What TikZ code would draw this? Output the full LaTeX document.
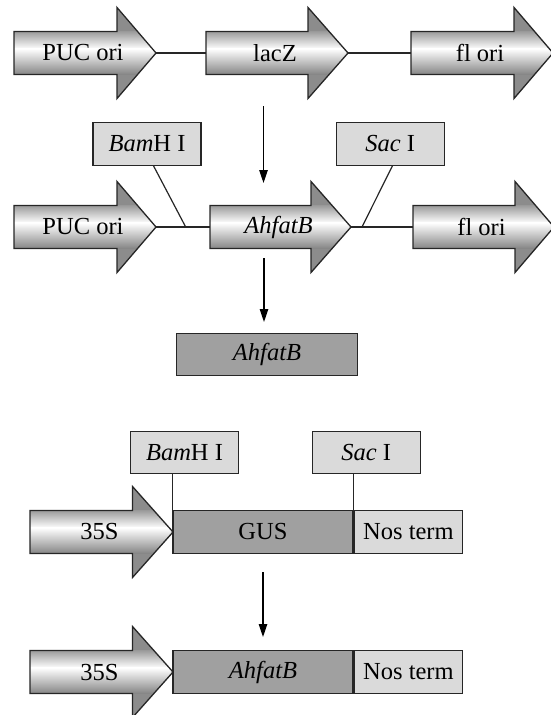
\documentclass[tikz,border=0pt]{standalone}
\usepackage{fontspec}
\setmainfont{Liberation Serif}
\usetikzlibrary{arrows.meta,calc}
\definecolor{wingc}{HTML}{8C8C8C}
\definecolor{topc}{HTML}{9C9C9C}
\definecolor{botc}{HTML}{858585}
\definecolor{darkbox}{HTML}{A0A0A0}
\definecolor{lightbox}{HTML}{DADADA}
\tikzset{
  genefill/.style={fill=wingc},
  geneline/.style={draw=black!85, line width=1.3pt, line join=miter},
  genetext/.style={inner sep=0pt, font=\fontsize{24.5}{28}\selectfont},
  conn/.style={draw=black!85, line width=1.2pt},
  flow/.style={draw=black, line width=1.2pt, -{Triangle[length=13pt,width=8.5pt]}},
  sitebox/.style={draw=black!85, line width=1.3pt, fill=lightbox, minimum width=108pt, minimum height=42.5pt, inner sep=0pt, font=\fontsize{24.5}{28}\selectfont},
  genebox/.style={draw=black!85, line width=1.3pt, fill=darkbox, minimum height=42.6pt, inner sep=0pt, font=\fontsize{24.5}{28}\selectfont},
  termbox/.style={draw=black!85, line width=1.3pt, fill=lightbox, minimum height=42.6pt, inner sep=0pt, font=\fontsize{24.5}{28}\selectfont}
}
% #1 name, #2 left, #3 head start, #4 tip, #5 centre y, #6 label
\newcommand{\genearr}[6]{%
  \path[genefill] (#2,#5-21.5) -- (#3,#5-21.5) -- (#3,#5-45.5) -- (#4,#5) -- (#3,#5+45.5) -- (#3,#5+21.5) -- (#2,#5+21.5) -- cycle;
  \begin{scope}
    \clip (#2,#5-21.5) -- (#3,#5-21.5) -- (#3,#5-45.5) -- (#4,#5) -- (#3,#5+45.5) -- (#3,#5+21.5) -- (#2,#5+21.5) -- cycle;
    \shade[top color=topc, bottom color=white] (#2,#5-21.5) rectangle (#4,#5-4);
    \shade[top color=white, bottom color=botc] (#2,#5-4.2) rectangle (#4,#5+21.5);
  \end{scope}
  \path[geneline] (#2,#5-21.5) -- (#3,#5-21.5) -- (#3,#5-45.5) -- (#4,#5) -- (#3,#5+45.5) -- (#3,#5+21.5) -- (#2,#5+21.5) -- cycle;
  \node[genetext] (#1) at ({(#2+#4)/2-2},#5) {#6};
  \coordinate (#1-in) at (#2,#5);
  \coordinate (#1-tip) at (#4,#5);
}
\begin{document}
\begin{tikzpicture}[x=1pt,y=-1pt]
\useasboundingbox (0,0) rectangle (551,715);
% row 1
\genearr{a1}{14}{117}{156}{53}{PUC ori}
\genearr{a2}{206}{308}{348}{53}{lacZ}
\genearr{a3}{411}{514}{553}{53}{fl ori}
\draw[conn] (a1-tip) -- (a2-in);
\draw[conn] (a2-tip) -- (a3-in);
% arrow 1
\coordinate (f1s) at (263.5,106);
\coordinate (f1e) at (263.5,183);
\draw[flow] (f1s) -- (f1e);
% row 2
\genearr{b1}{14}{117}{156}{227}{PUC ori}
\genearr{b2}{210}{311}{351}{227}{\itshape AhfatB}
\genearr{b3}{413}{515}{554}{227}{fl ori}
\draw[conn] (b1-tip) -- (b2-in);
\draw[conn] (b2-tip) -- (b3-in);
\node[sitebox] (bam1) at (147,144) {\textit{Bam}H I};
\node[sitebox] (sac1) at (390.2,144) {\textit{Sac} I};
\coordinate (cutB) at (185.7,227);
\coordinate (cutS) at (362,227);
\draw[conn] ($(bam1.south west)!0.56!(bam1.south east)$) -- (cutB);
\draw[conn] ($(sac1.south west)!0.52!(sac1.south east)$) -- (cutS);
% arrow 2
\coordinate (f2s) at (264,258);
\coordinate (f2e) at (264,322);
\draw[flow] (f2s) -- (f2e);
\node[genebox, minimum width=180.5pt] (frag) at (267,354.5) {\itshape AhfatB};
% row 3
\genearr{c1}{30}{132.5}{173}{532}{35S}
\node[genebox, minimum width=180pt] (gus) at (263,532) {GUS};
\node[termbox, minimum width=108.3pt, anchor=west] (nos1) at (gus.east) {Nos term};
\node[sitebox] (bam2) at (184.5,452.5) {\textit{Bam}H I};
\node[sitebox] (sac2) at (366.2,452.5) {\textit{Sac} I};
\draw[conn] (gus.north west |- bam2.south) -- (gus.north west);
\draw[conn] (gus.north east |- sac2.south) -- (gus.north east);
% arrow 3
\coordinate (f3s) at (263,572);
\coordinate (f3e) at (263,637);
\draw[flow] (f3s) -- (f3e);
% row 4
\genearr{d1}{30}{132.5}{173}{672}{35S}
\node[genebox, minimum width=180pt] (gene) at (263,672) {\itshape AhfatB};
\node[termbox, minimum width=108.3pt, anchor=west] (nos2) at (gene.east) {Nos term};
\end{tikzpicture}
\end{document}
